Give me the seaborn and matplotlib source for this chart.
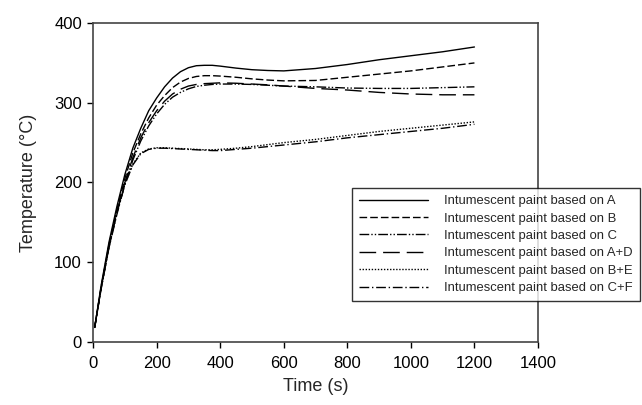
import matplotlib
matplotlib.use("Agg")
import matplotlib.pyplot as plt
import seaborn as sns
import pandas as pd

time_s = [5, 25, 50, 75, 100, 125, 150, 175, 200, 225, 250, 275, 300, 325, 350, 375, 400, 450, 500, 550, 600, 700, 800, 900, 1000, 1100, 1200]
temp_A = [18, 70, 125, 170, 210, 243, 268, 290, 306, 320, 331, 339, 344, 346.5, 347, 347, 346, 343.5, 341.5, 340.5, 340, 343, 348, 354, 359, 364, 370]
temp_B = [18, 68, 122, 166, 205, 237, 261, 281, 297, 309, 319, 326, 330.5, 333, 334, 334, 333.5, 332, 330, 328.5, 327.5, 328, 332, 336, 340, 345, 350]
temp_C = [18, 66, 118, 160, 198, 228, 252, 271, 286, 298, 307, 313, 317.5, 320.5, 322, 323, 323.5, 323.5, 323, 322, 321, 320, 318.5, 318, 318, 319, 320]
temp_AD = [18, 67, 120, 163, 200, 231, 256, 275, 290, 302, 311, 317, 321, 323, 324, 324.5, 325, 324.5, 323.5, 322.5, 321, 318, 316, 313, 311, 310, 310]
temp_BE = [18, 67, 120, 163, 198, 223, 237, 242, 243.5, 243.5, 243, 242.5, 242, 241.5, 241, 241, 241.5, 243, 245, 247.5, 250, 254, 259, 264, 268, 272, 276]
temp_CF = [18, 66, 119, 162, 197, 222, 236, 241.5, 243, 243, 242.5, 242, 241.5, 241, 240.5, 240, 240, 241.5, 243, 245, 247, 251, 256, 260, 264, 268, 273]

labels = ["Intumescent paint based on A", "Intumescent paint based on B",
          "Intumescent paint based on C", "Intumescent paint based on A+D",
          "Intumescent paint based on B+E", "Intumescent paint based on C+F"]
series = [temp_A, temp_B, temp_C, temp_AD, temp_BE, temp_CF]

rows = []
for lab, vals in zip(labels, series):
    for t, v in zip(time_s, vals):
        rows.append({"Time": t, "Temp": v, "Series": lab})
df = pd.DataFrame(rows)

sns.set_style("ticks")
plt.rcParams['font.family'] = ['Liberation Sans', 'DejaVu Sans']

fig = plt.figure(figsize=(6.42, 4.05), dpi=100)
ax = fig.add_axes([0.145, 0.156, 0.693, 0.787])

dashes = {
    labels[0]: "",
    labels[1]: (5.5, 2.2),
    labels[2]: (7, 1.5, 1, 1.5, 1, 1.5),
    labels[3]: (12, 5),
    labels[4]: (1, 1.2),
    labels[5]: (7, 2, 1, 2),
}
palette = {lab: "black" for lab in labels}

sns.lineplot(data=df, x="Time", y="Temp", hue="Series", style="Series",
             dashes=dashes, palette=palette, hue_order=labels, style_order=labels,
             linewidth=1.0, ax=ax)

ax.set_xlim(0, 1400)
ax.set_ylim(0, 400)
ax.set_xticks(range(0, 1401, 200))
ax.set_yticks(range(0, 401, 100))
ax.tick_params(direction="out", length=4, width=1, labelsize=12, colors="black", pad=4)
ax.tick_params(axis="x", pad=6)
for s in ax.spines.values():
    s.set_visible(True)
    s.set_color("#444444")
    s.set_linewidth(1.2)
ax.set_xlabel("Time (s)", fontsize=13, labelpad=5)
ax.set_ylabel("Temperature (°C)", fontsize=13, labelpad=12)

leg = ax.legend(loc="upper left", bbox_to_anchor=(352 / 642, 1 - 188 / 405),
                bbox_transform=fig.transFigure, fontsize=9.4, frameon=True,
                fancybox=False, handlelength=5.3, handletextpad=1.2,
                labelspacing=0.4, borderpad=0.55, borderaxespad=0, title=None)
leg.get_frame().set_edgecolor("black")
leg.get_frame().set_linewidth(1.0)
for h in leg.get_lines():
    h.set_linewidth(1.0)

fig.savefig("out.png", dpi=100)
